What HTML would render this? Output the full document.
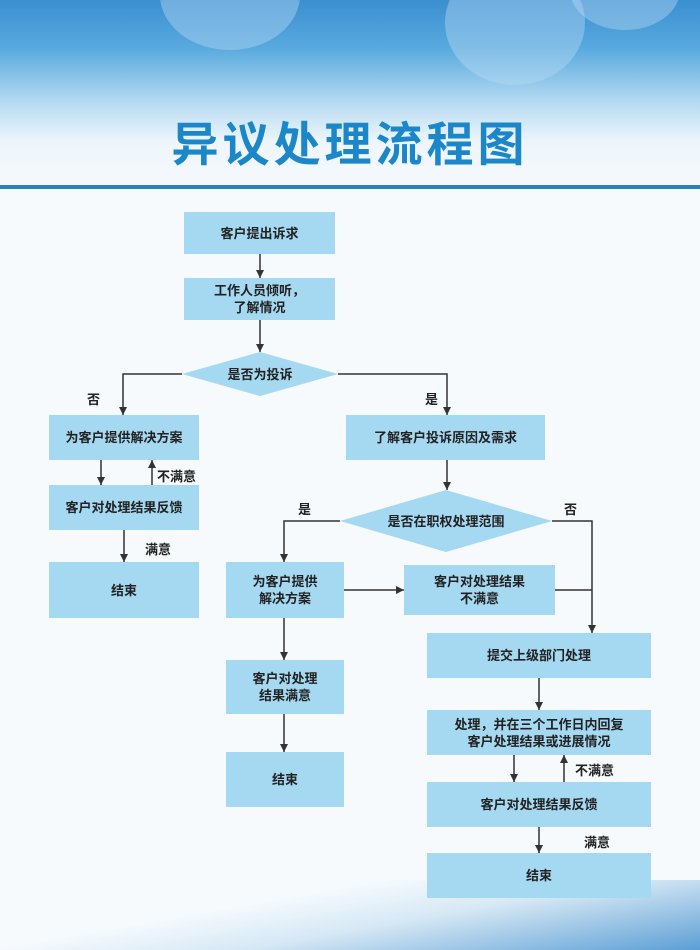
<!DOCTYPE html>
<html><head><meta charset="utf-8"><style>
*{margin:0;padding:0;box-sizing:border-box}
body{width:700px;height:950px;position:relative;overflow:hidden;font-family:"Liberation Sans","Noto Sans CJK SC",sans-serif;background:#f6fafd}
.hdr{position:absolute;left:0;top:0;width:700px;height:190px;background:linear-gradient(180deg,#3a8fd0 0%,#58a9de 25%,#b9dcf2 55%,#eef6fc 75%,#f5f9fd 100%)}
.c{position:absolute;border-radius:50%;background:rgba(190,220,245,0.4)}
.line{position:absolute;left:0;top:185px;width:700px;height:4px;background:#2a80bb}
.title{position:absolute;left:0;top:106px;width:700px;text-align:center;font-size:47px;font-weight:bold;color:#1b87c9;letter-spacing:4px}
.b{position:absolute;background:#a5d8f1;display:flex;align-items:center;justify-content:center;text-align:center;font-size:13px;font-weight:bold;color:#222;line-height:17px}
.l{position:absolute;font-size:13px;font-weight:bold;color:#222}
.bot{position:absolute;left:0;top:880px;width:700px;height:70px;background:linear-gradient(170deg,rgba(255,255,255,0) 35%,#d6e8f5 58%,#5c9fd6 100%)}
</style></head><body>
<div class="hdr"></div>
<div class="c" style="left:160px;top:-60px;width:140px;height:110px"></div>
<div class="c" style="left:445px;top:-40px;width:140px;height:125px"></div>
<div class="c" style="left:570px;top:-50px;width:110px;height:80px"></div>
<div class="title">异议处理流程图</div>
<div class="line"></div>
<div class="bot"></div>
<svg style="position:absolute;left:0;top:0" width="700" height="950">
<defs><marker id="a" markerWidth="8" markerHeight="8" refX="8" refY="4" orient="auto" markerUnits="userSpaceOnUse"><path d="M0,0 L8,4 L0,8 z" fill="#333"/></marker></defs>
<polygon points="182,374 260,352 338,374 260,396" fill="#a5d8f1"/>
<polygon points="340,521 446,490 552,521 446,552" fill="#a5d8f1"/>
<g stroke="#333" stroke-width="1.5" fill="none">
<line x1="260" y1="254" x2="260" y2="278" marker-end="url(#a)"/>
<line x1="260" y1="320" x2="260" y2="352" marker-end="url(#a)"/>
<polyline points="182,374 123,374 123,415" marker-end="url(#a)"/>
<polyline points="338,374 447,374 447,415" marker-end="url(#a)"/>
<line x1="101" y1="460" x2="101" y2="485" marker-end="url(#a)"/>
<line x1="152" y1="485" x2="152" y2="460" marker-end="url(#a)"/>
<line x1="124" y1="530" x2="124" y2="562" marker-end="url(#a)"/>
<line x1="447" y1="460" x2="447" y2="490" marker-end="url(#a)"/>
<polyline points="340,521 284,521 284,562" marker-end="url(#a)"/>
<polyline points="552,521 592,521 592,633" marker-end="url(#a)"/>
<line x1="344" y1="590" x2="404" y2="590" marker-end="url(#a)"/>
<line x1="555" y1="590" x2="592" y2="590"/>
<line x1="284" y1="618" x2="284" y2="660" marker-end="url(#a)"/>
<line x1="284" y1="714" x2="284" y2="752" marker-end="url(#a)"/>
<line x1="539" y1="678" x2="539" y2="710" marker-end="url(#a)"/>
<line x1="514" y1="755" x2="514" y2="782" marker-end="url(#a)"/>
<line x1="564" y1="782" x2="564" y2="755" marker-end="url(#a)"/>
<line x1="539" y1="827" x2="539" y2="853" marker-end="url(#a)"/>
</g>
<g font-family="Liberation Sans,Noto Sans CJK SC,sans-serif" font-size="13" font-weight="bold" fill="#222" text-anchor="middle">
<text x="260" y="379">是否为投诉</text>
<text x="446" y="526">是否在职权处理范围</text>
</g>
</svg>
<div class="b" style="left:184px;top:212px;width:151px;height:42px">客户提出诉求</div>
<div class="b" style="left:184px;top:278px;width:151px;height:42px">工作人员倾听，<br>了解情况</div>
<div class="b" style="left:49px;top:415px;width:150px;height:45px">为客户提供解决方案</div>
<div class="b" style="left:49px;top:485px;width:150px;height:45px">客户对处理结果反馈</div>
<div class="b" style="left:49px;top:562px;width:150px;height:56px">结束</div>
<div class="b" style="left:346px;top:415px;width:199px;height:45px">了解客户投诉原因及需求</div>
<div class="b" style="left:226px;top:562px;width:118px;height:56px">为客户提供<br>解决方案</div>
<div class="b" style="left:404px;top:565px;width:151px;height:50px">客户对处理结果<br>不满意</div>
<div class="b" style="left:226px;top:660px;width:118px;height:54px">客户对处理<br>结果满意</div>
<div class="b" style="left:226px;top:752px;width:118px;height:55px">结束</div>
<div class="b" style="left:427px;top:633px;width:224px;height:45px">提交上级部门处理</div>
<div class="b" style="left:427px;top:710px;width:224px;height:45px">处理，并在三个工作日内回复<br>客户处理结果或进展情况</div>
<div class="b" style="left:427px;top:782px;width:224px;height:45px">客户对处理结果反馈</div>
<div class="b" style="left:427px;top:853px;width:224px;height:45px">结束</div>
<div class="l" style="left:87px;top:389px">否</div>
<div class="l" style="left:425px;top:389px">是</div>
<div class="l" style="left:157px;top:466px">不满意</div>
<div class="l" style="left:145px;top:539px">满意</div>
<div class="l" style="left:298px;top:499px">是</div>
<div class="l" style="left:564px;top:499px">否</div>
<div class="l" style="left:575px;top:760px">不满意</div>
<div class="l" style="left:584px;top:832px">满意</div>
</body></html>
